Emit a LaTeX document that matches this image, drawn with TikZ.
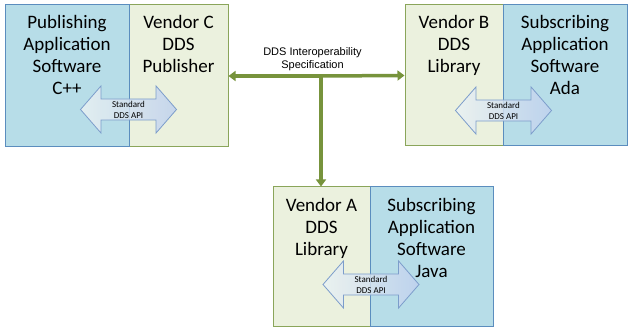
\documentclass[tikz,border=0pt]{standalone}
\usepackage{fontspec}
\setmainfont{Carlito}
\newfontfamily\specfont{Liberation Sans}
\usetikzlibrary{arrows.meta,shapes.arrows}
\definecolor{appblue}{HTML}{B7DDE8}
\definecolor{appedge}{HTML}{5B8DBE}
\definecolor{ddsgreen}{HTML}{EBF1DE}
\definecolor{ddsedge}{HTML}{8AA55A}
\definecolor{specline}{HTML}{77933C}
\definecolor{apiedge}{HTML}{7C9DCB}
\definecolor{apileft}{HTML}{EAF2F2}
\definecolor{apiright}{HTML}{BFD1EE}

\begin{document}
\begin{tikzpicture}[x=1pt, y=-1pt,
    appbox/.style={draw=appedge, fill=appblue, line width=1pt, inner sep=0pt},
    ddsbox/.style={draw=ddsedge, fill=ddsgreen, line width=1pt, inner sep=0pt},
    boxtext/.style={anchor=north, align=center, inner sep=0pt, font=\fontsize{19}{22}\selectfont},
    apiarrow/.style={double arrow, draw=apiedge, line width=0.8pt, left color=apileft, right color=apiright,
      fill opacity=0.85, text opacity=1, align=center, inner sep=1.5pt,
      minimum height=96pt, double arrow head extend=13pt, double arrow tip angle=98,
      font=\fontsize{9}{11}\selectfont},
    specarrow/.style={draw=specline, line width=3.5pt, -{Triangle[length=7pt, width=10pt]}}]
  \useasboundingbox (0,0) rectangle (633,336);

  % publisher side
  \node[ddsbox, minimum width=99pt, minimum height=142pt] (vendC) at (178.5,76) {};
  \node[appbox, minimum width=124pt, minimum height=142pt] (pubApp) at (67,76) {};
  % subscriber, vendor B
  \node[ddsbox, minimum width=98pt, minimum height=141pt] (vendB) at (454,75.5) {};
  \node[appbox, minimum width=124pt, minimum height=141pt] (subAda) at (565,75.5) {};
  % subscriber, vendor A
  \node[ddsbox, minimum width=97pt, minimum height=140pt] (vendA) at (321.5,257) {};
  \node[appbox, minimum width=123pt, minimum height=140pt] (subJava) at (431.5,257) {};

  \node[boxtext] (pubAppTxt) at ([yshift=-11pt]pubApp.north) {Publishing\\Application\\Software\\C++};
  \node[boxtext] (vendCTxt) at ([yshift=-11pt]vendC.north) {Vendor C\\DDS\\Publisher};
  \node[boxtext] (vendBTxt) at ([yshift=-11pt]vendB.north) {Vendor B\\DDS\\Library};
  \node[boxtext] (subAdaTxt) at ([yshift=-11pt]subAda.north) {Subscribing\\Application\\Software\\Ada};
  \node[boxtext] (vendATxt) at ([yshift=-12pt]vendA.north) {Vendor A\\DDS\\Library};
  \node[boxtext] (subJavaTxt) at ([yshift=-12pt]subJava.north) {Subscribing\\Application\\Software\\Java};

  % standard API between application and vendor library
  \foreach \nm/\x/\y in {apiC/128.5/109.5, apiB/503.5/110.5, apiA/371/284.5} {
    \node[apiarrow] (\nm) at (\x,\y) {Standard\\DDS API};
  }

  % interoperability wire
  \node[font=\specfont\fontsize{11}{13}\selectfont, align=center, inner sep=0pt] (spec) at (312.5,59.5)
    {DDS Interoperability\\Specification};
  \coordinate (junc) at (321,76);
  \draw[specarrow] (junc) -- (vendC.east);
  \draw[specarrow] (junc) -- (vendB.west);
  \draw[specarrow] (junc) -- (junc |- vendA.north);
\end{tikzpicture}
\end{document}
